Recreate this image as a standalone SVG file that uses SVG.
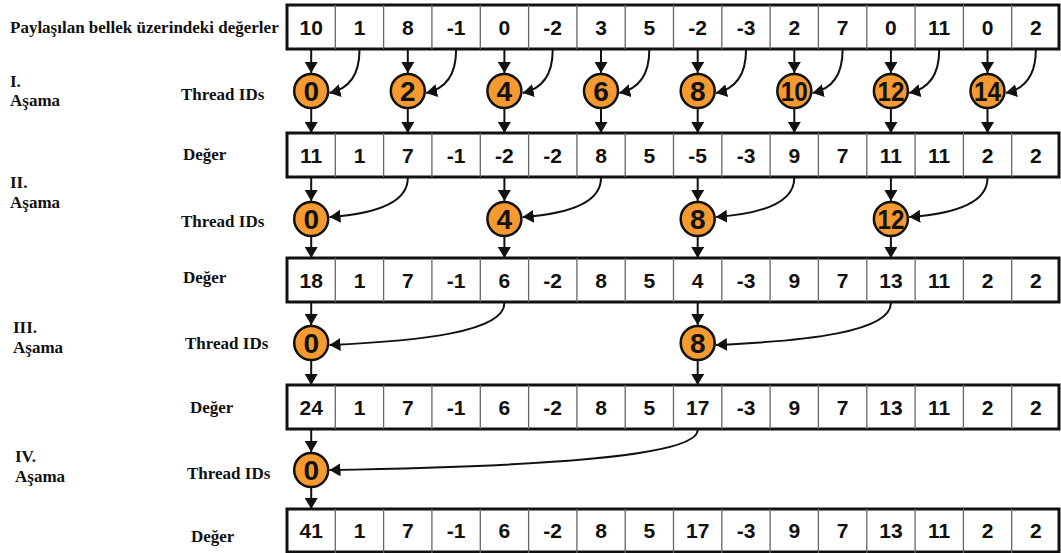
<svg xmlns="http://www.w3.org/2000/svg" width="1061" height="553" viewBox="0 0 1061 553">
<style>
.lbl{font-family:"Liberation Serif","Times New Roman",serif;font-weight:bold;font-size:17px;fill:#111}
.cell{font-family:"Liberation Sans",Arial,sans-serif;font-weight:bold;font-size:21px;fill:#111;text-anchor:middle}
.frame{fill:#fff;stroke:#111;stroke-width:3}
.div{stroke:#666;stroke-width:1.3}
.node circle{fill:#f59a31;stroke:#111;stroke-width:2.5}
.node text{font-family:"Liberation Sans",Arial,sans-serif;font-weight:bold;font-size:28px;fill:#111;text-anchor:middle}
.conn{fill:none;stroke:#111;stroke-width:2;marker-end:url(#ah)}
</style>
<defs>
<marker id="ah" markerUnits="userSpaceOnUse" markerWidth="11" markerHeight="13" viewBox="0 0 11 13" refX="11" refY="6.5" orient="auto">
<path d="M0,0 L11,6.5 L0,13 z" fill="#111"/>
</marker>
<g id="dividers">
<line class="div" x1="335.3" y1="0" x2="335.3" y2="44"/>
<line class="div" x1="383.6" y1="0" x2="383.6" y2="44"/>
<line class="div" x1="431.9" y1="0" x2="431.9" y2="44"/>
<line class="div" x1="480.3" y1="0" x2="480.3" y2="44"/>
<line class="div" x1="528.6" y1="0" x2="528.6" y2="44"/>
<line class="div" x1="576.9" y1="0" x2="576.9" y2="44"/>
<line class="div" x1="625.2" y1="0" x2="625.2" y2="44"/>
<line class="div" x1="673.5" y1="0" x2="673.5" y2="44"/>
<line class="div" x1="721.8" y1="0" x2="721.8" y2="44"/>
<line class="div" x1="770.1" y1="0" x2="770.1" y2="44"/>
<line class="div" x1="818.4" y1="0" x2="818.4" y2="44"/>
<line class="div" x1="866.8" y1="0" x2="866.8" y2="44"/>
<line class="div" x1="915.1" y1="0" x2="915.1" y2="44"/>
<line class="div" x1="963.4" y1="0" x2="963.4" y2="44"/>
<line class="div" x1="1011.7" y1="0" x2="1011.7" y2="44"/>
</g>
</defs>
<rect width="1061" height="553" fill="#fff"/>

<!-- labels -->
<g id="labels">
<text class="lbl" x="10" y="33">Paylaşılan bellek üzerindeki değerler</text>
<text class="lbl" x="10" y="87">I.</text>
<text class="lbl" x="10" y="106">Aşama</text>
<text class="lbl" x="181" y="100">Thread IDs</text>
<text class="lbl" x="183" y="160">Değer</text>
<text class="lbl" x="10" y="188">II.</text>
<text class="lbl" x="10" y="208">Aşama</text>
<text class="lbl" x="181" y="227">Thread IDs</text>
<text class="lbl" x="183" y="283">Değer</text>
<text class="lbl" x="13" y="333">III.</text>
<text class="lbl" x="13" y="353">Aşama</text>
<text class="lbl" x="185" y="349">Thread IDs</text>
<text class="lbl" x="190" y="413">Değer</text>
<text class="lbl" x="15" y="462">IV.</text>
<text class="lbl" x="15" y="482">Aşama</text>
<text class="lbl" x="187" y="479">Thread IDs</text>
<text class="lbl" x="191" y="542">Değer</text>
</g>

<!-- rows -->
<g id="row1">
<rect class="frame" x="287" y="5" width="772" height="44"/>
<use href="#dividers" y="5"/>
<text class="cell" y="34.5"><tspan x="311.2">10</tspan><tspan x="359.5">1</tspan><tspan x="407.8">8</tspan><tspan x="456.1">-1</tspan><tspan x="504.4">0</tspan><tspan x="552.7">-2</tspan><tspan x="601">3</tspan><tspan x="649.3">5</tspan><tspan x="697.7">-2</tspan><tspan x="746">-3</tspan><tspan x="794.3">2</tspan><tspan x="842.6">7</tspan><tspan x="890.9">0</tspan><tspan x="939.2">11</tspan><tspan x="987.5">0</tspan><tspan x="1035.8">2</tspan></text>
</g>
<g id="row2">
<rect class="frame" x="287" y="133" width="772" height="44"/>
<use href="#dividers" y="133"/>
<text class="cell" y="162.5"><tspan x="311.2">11</tspan><tspan x="359.5">1</tspan><tspan x="407.8">7</tspan><tspan x="456.1">-1</tspan><tspan x="504.4">-2</tspan><tspan x="552.7">-2</tspan><tspan x="601">8</tspan><tspan x="649.3">5</tspan><tspan x="697.7">-5</tspan><tspan x="746">-3</tspan><tspan x="794.3">9</tspan><tspan x="842.6">7</tspan><tspan x="890.9">11</tspan><tspan x="939.2">11</tspan><tspan x="987.5">2</tspan><tspan x="1035.8">2</tspan></text>
</g>
<g id="row3">
<rect class="frame" x="287" y="258" width="772" height="44"/>
<use href="#dividers" y="258"/>
<text class="cell" y="287.5"><tspan x="311.2">18</tspan><tspan x="359.5">1</tspan><tspan x="407.8">7</tspan><tspan x="456.1">-1</tspan><tspan x="504.4">6</tspan><tspan x="552.7">-2</tspan><tspan x="601">8</tspan><tspan x="649.3">5</tspan><tspan x="697.7">4</tspan><tspan x="746">-3</tspan><tspan x="794.3">9</tspan><tspan x="842.6">7</tspan><tspan x="890.9">13</tspan><tspan x="939.2">11</tspan><tspan x="987.5">2</tspan><tspan x="1035.8">2</tspan></text>
</g>
<g id="row4">
<rect class="frame" x="287" y="385" width="772" height="44"/>
<use href="#dividers" y="385"/>
<text class="cell" y="414.5"><tspan x="311.2">24</tspan><tspan x="359.5">1</tspan><tspan x="407.8">7</tspan><tspan x="456.1">-1</tspan><tspan x="504.4">6</tspan><tspan x="552.7">-2</tspan><tspan x="601">8</tspan><tspan x="649.3">5</tspan><tspan x="697.7">17</tspan><tspan x="746">-3</tspan><tspan x="794.3">9</tspan><tspan x="842.6">7</tspan><tspan x="890.9">13</tspan><tspan x="939.2">11</tspan><tspan x="987.5">2</tspan><tspan x="1035.8">2</tspan></text>
</g>
<g id="row5">
<rect class="frame" x="287" y="509" width="772" height="43"/>
<use href="#dividers" y="509"/>
<text class="cell" y="538"><tspan x="311.2">41</tspan><tspan x="359.5">1</tspan><tspan x="407.8">7</tspan><tspan x="456.1">-1</tspan><tspan x="504.4">6</tspan><tspan x="552.7">-2</tspan><tspan x="601">8</tspan><tspan x="649.3">5</tspan><tspan x="697.7">17</tspan><tspan x="746">-3</tspan><tspan x="794.3">9</tspan><tspan x="842.6">7</tspan><tspan x="890.9">13</tspan><tspan x="939.2">11</tspan><tspan x="987.5">2</tspan><tspan x="1035.8">2</tspan></text>
</g>

<!-- connectors -->
<g id="connectors">
<!-- stage I -->
<path class="conn" d="M311.2,49 V73"/><path class="conn" d="M311.2,109 V133"/>
<path class="conn" d="M359.5,50 C359.5,76 348,89 329.5,93"/>
<path class="conn" d="M407.8,49 V73"/><path class="conn" d="M407.8,109 V133"/>
<path class="conn" d="M456.1,50 C456.1,76 444.6,89 426.1,93"/>
<path class="conn" d="M504.4,49 V73"/><path class="conn" d="M504.4,109 V133"/>
<path class="conn" d="M552.7,50 C552.7,76 541.2,89 522.7,93"/>
<path class="conn" d="M601,49 V73"/><path class="conn" d="M601,109 V133"/>
<path class="conn" d="M649.3,50 C649.3,76 637.8,89 619.3,93"/>
<path class="conn" d="M697.7,49 V73"/><path class="conn" d="M697.7,109 V133"/>
<path class="conn" d="M746,50 C746,76 734.5,89 716,93"/>
<path class="conn" d="M794.3,49 V73"/><path class="conn" d="M794.3,109 V133"/>
<path class="conn" d="M842.6,50 C842.6,76 831.1,89 812.6,93"/>
<path class="conn" d="M890.9,49 V73"/><path class="conn" d="M890.9,109 V133"/>
<path class="conn" d="M939.2,50 C939.2,76 927.7,89 909.2,93"/>
<path class="conn" d="M987.5,49 V73"/><path class="conn" d="M987.5,109 V133"/>
<path class="conn" d="M1035.8,50 C1035.8,76 1024.3,89 1005.8,93"/>
<!-- stage II -->
<path class="conn" d="M311.2,177 V201"/><path class="conn" d="M311.2,237 V258"/>
<path class="conn" d="M407.8,178 C407.8,204 372,214 329.5,217"/>
<path class="conn" d="M504.4,177 V201"/><path class="conn" d="M504.4,237 V258"/>
<path class="conn" d="M601,178 C601,204 565.2,214 522.7,217"/>
<path class="conn" d="M697.7,177 V201"/><path class="conn" d="M697.7,237 V258"/>
<path class="conn" d="M794.3,178 C794.3,204 758.5,214 716,217"/>
<path class="conn" d="M890.9,177 V201"/><path class="conn" d="M890.9,237 V258"/>
<path class="conn" d="M987.5,178 C987.5,204 951.7,214 909.2,217"/>
<!-- stage III -->
<path class="conn" d="M311.2,302 V325"/><path class="conn" d="M311.2,361 V385"/>
<path class="conn" d="M504.4,303 C504.4,332 420,341 329.5,345"/>
<path class="conn" d="M697.7,302 V325"/><path class="conn" d="M697.7,361 V385"/>
<path class="conn" d="M890.9,303 C890.9,332 806.5,341 716,345"/>
<!-- stage IV -->
<path class="conn" d="M311.2,429 V452"/><path class="conn" d="M311.2,488 V509"/>
<path class="conn" d="M697.7,430 C697.7,458 520,467 329.5,470"/>
</g>

<!-- thread nodes -->
<g id="s1t0" class="node"><circle cx="311.2" cy="91" r="17"/><text x="311.2" y="101">0</text></g>
<g id="s1t2" class="node"><circle cx="407.8" cy="91" r="17"/><text x="407.8" y="101">2</text></g>
<g id="s1t4" class="node"><circle cx="504.4" cy="91" r="17"/><text x="504.4" y="101">4</text></g>
<g id="s1t6" class="node"><circle cx="601" cy="91" r="17"/><text x="601" y="101">6</text></g>
<g id="s1t8" class="node"><circle cx="697.7" cy="91" r="17"/><text x="697.7" y="101">8</text></g>
<g id="s1t10" class="node"><circle cx="794.3" cy="91" r="17"/><text x="794.3" y="101" textLength="27" lengthAdjust="spacingAndGlyphs">10</text></g>
<g id="s1t12" class="node"><circle cx="890.9" cy="91" r="17"/><text x="890.9" y="101" textLength="27" lengthAdjust="spacingAndGlyphs">12</text></g>
<g id="s1t14" class="node"><circle cx="987.5" cy="91" r="17"/><text x="987.5" y="101" textLength="27" lengthAdjust="spacingAndGlyphs">14</text></g>
<g id="s2t0" class="node"><circle cx="311.2" cy="219" r="17"/><text x="311.2" y="229">0</text></g>
<g id="s2t4" class="node"><circle cx="504.4" cy="219" r="17"/><text x="504.4" y="229">4</text></g>
<g id="s2t8" class="node"><circle cx="697.7" cy="219" r="17"/><text x="697.7" y="229">8</text></g>
<g id="s2t12" class="node"><circle cx="890.9" cy="219" r="17"/><text x="890.9" y="229" textLength="27" lengthAdjust="spacingAndGlyphs">12</text></g>
<g id="s3t0" class="node"><circle cx="311.2" cy="343" r="17"/><text x="311.2" y="353">0</text></g>
<g id="s3t8" class="node"><circle cx="697.7" cy="343" r="17"/><text x="697.7" y="353">8</text></g>
<g id="s4t0" class="node"><circle cx="311.2" cy="470" r="17"/><text x="311.2" y="480">0</text></g>
</svg>
